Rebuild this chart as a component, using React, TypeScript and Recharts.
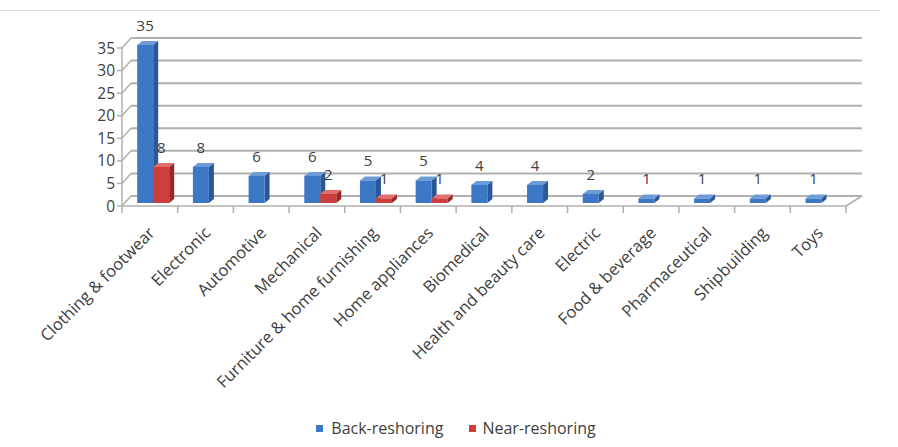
import React from "react";
import { BarChart, Bar, XAxis, YAxis, CartesianGrid, Legend, LabelList } from "recharts";

const categories = [
  "Clothing & footwear",
  "Electronic",
  "Automotive",
  "Mechanical",
  "Furniture & home furnishing",
  "Home appliances",
  "Biomedical",
  "Health and beauty care",
  "Electric",
  "Food & beverage",
  "Pharmaceutical",
  "Shipbuilding",
  "Toys",
];
const backReshoring = [35, 8, 6, 6, 5, 5, 4, 4, 2, 1, 1, 1, 1];
const nearReshoring = [8, 0, 0, 2, 1, 1, 0, 0, 0, 0, 0, 0, 0];
const yTicks = [0, 5, 10, 15, 20, 25, 30, 35];

const data = categories.map((name, i) => ({
  name,
  back: backReshoring[i],
  near: nearReshoring[i],
}));

const FONT = "'Open Sans', 'Noto Sans', sans-serif";
const TEXT = "#404040";
const GRID = "#b0b0b0";

// bars sit a bit into the floor, like the Excel 3D look
const OX = 3.5;
const OY = -3;
const DX = 5;
const DY = 4;
// back wall offset for gridlines
const WX = 9;
const WY = 10;

const makeBar = (front: string, top: string, side: string) => (props: any) => {
  const { x, y, width, height, value } = props;
  if (!value || height <= 0) return <g />;
  const fx = x + OX;
  const fy = y + OY;
  return (
    <g>
      <polygon
        points={`${fx},${fy} ${fx + DX},${fy - DY} ${fx + width + DX},${fy - DY} ${fx + width},${fy}`}
        fill={top}
      />
      <polygon
        points={`${fx + width},${fy} ${fx + width + DX},${fy - DY} ${fx + width + DX},${fy + height - DY} ${fx + width},${fy + height}`}
        fill={side}
      />
      <rect x={fx} y={fy} width={width} height={height} fill={front} />
    </g>
  );
};

const BlueBar = makeBar("#3d78c6", "#6f9bd8", "#2a5796");
const RedBar = makeBar("#cc3d3b", "#e0706c", "#952a28");

const ValueLabel = (props: any) => {
  const { x, y, width, value } = props;
  if (!value) return null;
  return (
    <text
      x={x + OX + width / 2}
      y={y + OY - 14}
      textAnchor="middle"
      fontSize={15}
      fontFamily={FONT}
      fill={TEXT}
    >
      {value}
    </text>
  );
};

const GridLine = (props: any) => {
  const { x1, x2, y1, index } = props;
  return (
    <g key={`g-${index}-${y1}`}>
      <line x1={x1} y1={y1} x2={x1 + WX} y2={y1 - WY} stroke={GRID} strokeWidth={1.5} />
      <line x1={x1 + WX} y1={y1 - WY} x2={x2 + 16} y2={y1 - WY} stroke={GRID} strokeWidth={2} />
      {Math.abs(y1 - 206) < 1 && (
        <line x1={x2} y1={y1} x2={x2 + 16} y2={y1 - WY} stroke={GRID} strokeWidth={1.5} />
      )}
    </g>
  );
};

const CategoryTick = (props: any) => {
  const { x, y, payload, index } = props;
  const half = 55.7 / 2;
  const last = index === categories.length - 1;
  return (
    <g>
      <line x1={x - half} y1={y - 8} x2={x - half} y2={y - 1} stroke={GRID} strokeWidth={1.5} />
      {last && <line x1={x + half} y1={y - 8} x2={x + half} y2={y - 1} stroke={GRID} strokeWidth={1.5} />}
      <text
        x={x + 6}
        y={y + 20}
        textAnchor="end"
        transform={`rotate(-45, ${x + 6}, ${y + 20})`}
        fontSize={16.5}
        fontFamily={FONT}
        fill={TEXT}
      >
        {payload.value}
      </text>
    </g>
  );
};

const LegendContent = () => (
  <div
    style={{
      display: "flex",
      justifyContent: "center",
      alignItems: "center",
      fontFamily: FONT,
      fontSize: 16,
      color: TEXT,
      paddingLeft: 14,
    }}
  >
    <span style={{ width: 7, height: 7, background: "#3d78c6", marginRight: 8 }} />
    <span style={{ marginRight: 26 }}>Back-reshoring</span>
    <span style={{ width: 7, height: 7, background: "#cc3d3b", marginRight: 6 }} />
    <span>Near-reshoring</span>
  </div>
);

export default function App() {
  return (
    <div style={{ position: "absolute", left: 0, top: 0, width: 898, height: 447, background: "#fff" }}>
      <div style={{ position: "absolute", left: 0, top: 10, width: 880, borderTop: "1px solid #d9d9d9" }} />
      <BarChart
        width={898}
        height={447}
        data={data}
        margin={{ top: 48, right: 52, left: 62, bottom: 0 }}
        barCategoryGap="21%"
        barGap={0}
      >
        <CartesianGrid vertical={false} horizontal={GridLine} />
        <XAxis
          dataKey="name"
          interval={0}
          height={241}
          stroke={GRID}
          strokeWidth={1.5}
          tickLine={false}
          tick={CategoryTick}
        />
        <YAxis
          domain={[0, 35]}
          ticks={yTicks}
          interval={0}
          width={60}
          stroke={GRID}
          strokeWidth={1.5}
          tickSize={5}
          tick={{ fontSize: 15.5, fontFamily: FONT, fill: TEXT }}
        />
        <Legend
          verticalAlign="middle"
          align="center"
          content={LegendContent}
          wrapperStyle={{ position: "absolute", top: 417, left: 0, width: 898 }}
        />
        <Bar dataKey="back" name="Back-reshoring" fill="#3d78c6" shape={BlueBar} isAnimationActive={false}>
          <LabelList dataKey="back" content={ValueLabel} />
        </Bar>
        <Bar dataKey="near" name="Near-reshoring" fill="#cc3d3b" shape={RedBar} isAnimationActive={false}>
          <LabelList dataKey="near" content={ValueLabel} />
        </Bar>
      </BarChart>
    </div>
  );
}
